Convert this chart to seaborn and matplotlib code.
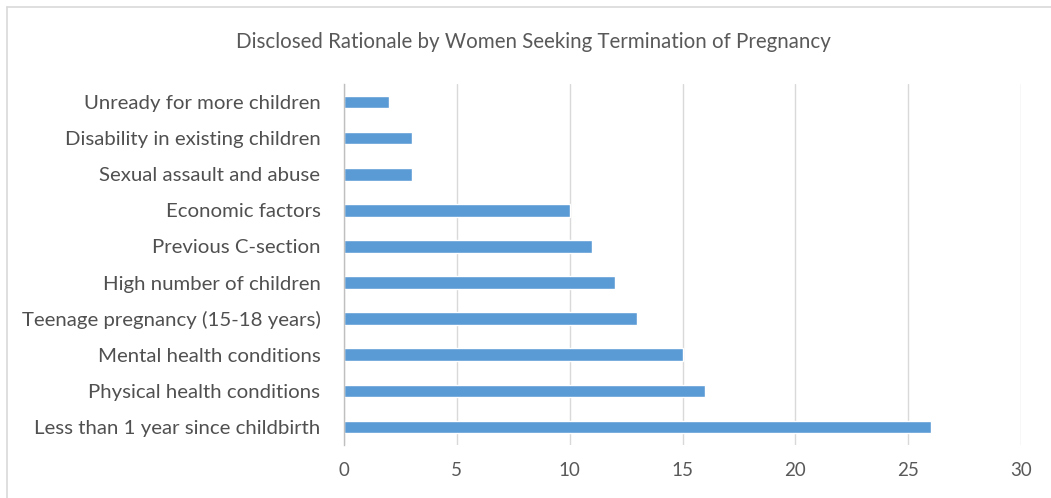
import matplotlib
matplotlib.use("Agg")
import matplotlib.pyplot as plt
import seaborn as sns
import pandas as pd
from matplotlib.lines import Line2D

categories = [
    "Unready for more children",
    "Disability in existing children",
    "Sexual assault and abuse",
    "Economic factors",
    "Previous C-section",
    "High number of children",
    "Teenage pregnancy (15-18 years)",
    "Mental health conditions",
    "Physical health conditions",
    "Less than 1 year since childbirth",
]
values = [2, 3, 3, 10, 11, 12, 13, 15, 16, 26]
x_ticks = [0, 5, 10, 15, 20, 25, 30]
title = "Disclosed Rationale by Women Seeking Termination of Pregnancy"

df = pd.DataFrame({"reason": categories, "count": values})

sns.set_theme(style="white")
plt.rcParams['font.family'] = ['Lato', 'DejaVu Sans']

W, H = 1051, 498
fig = plt.figure(figsize=(W / 100, H / 100), dpi=100)
ax = fig.add_axes([344 / W, 1 - 445 / H, (1021 - 344) / W, (445 - 84) / H])

sns.barplot(data=df, y="reason", x="count", orient="h", color="#5B9BD5",
            saturation=1, width=0.35, ax=ax, order=categories)

ax.set_xlim(0, 30)
ax.set_xticks(x_ticks)
ax.set_xticklabels([str(t) for t in x_ticks], fontsize=13.5, color="#595959")
ax.set_xlabel("")
ax.set_ylabel("")
ax.tick_params(axis="y", labelsize=14.7, labelcolor="#505050", length=0, pad=17)
ax.tick_params(axis="x", length=0, pad=12)
ax.grid(axis="x", color="#D9D9D9", linewidth=1)
ax.set_axisbelow(True)
for s in ["top", "right", "bottom"]:
    ax.spines[s].set_visible(False)
ax.spines["left"].set_color("#BFBFBF")
ax.spines["left"].set_linewidth(1)

fig.text(533 / W, 1 - 42 / H, title, ha="center", va="center",
         fontsize=14.8, color="#595959")

# outer chart border (left and top)
fig.add_artist(Line2D([7 / W, 7 / W], [0, 1 - 7 / H], transform=fig.transFigure,
                      color="#D9D9D9", linewidth=1.2))
fig.add_artist(Line2D([7 / W, 1], [1 - 7 / H, 1 - 7 / H], transform=fig.transFigure,
                      color="#D9D9D9", linewidth=1.2))

fig.savefig("out.png", dpi=100, facecolor="white")
